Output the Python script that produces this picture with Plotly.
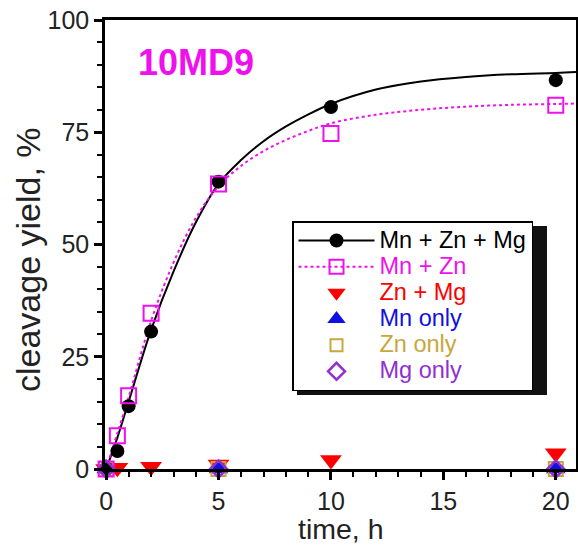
import plotly.graph_objects as go

# ---- data ----
t_mzm = [0, 0.5, 1, 2, 5, 10, 20]
y_mzm = [0, 4, 14, 30.6, 64, 80.6, 86.6]

t_mz = [0, 0.5, 1, 2, 5, 10, 20]
y_mz = [0, 7.4, 16.3, 34.7, 63.5, 74.7, 81]

t_zm = [0, 0.5, 2, 5, 10, 20]
y_zm = [0, 0.3, 0.5, 1, 2, 3.5]

t_single = [0, 5, 20]
y_mn = [0, 0, 0]
y_zn = [0, 0, 0]
y_mg = [0, 0, 0]

# fitted curves
fit_t = [0, 0.5, 1, 2, 3, 4, 5, 6, 7, 8, 9, 10, 12, 14, 16, 18, 20, 20.9]
fit_mzm = [0, 7, 15, 31, 44, 55, 63.5, 68.8, 73, 76.3, 79, 81.3, 84.5, 86.3, 87.3, 87.9, 88.2, 88.4]
fit_mz = [0, 8, 16, 33, 46, 56, 63, 67.5, 70.8, 73.3, 75.3, 77, 78.9, 80, 80.7, 81.1, 81.3, 81.4]

x_ticks = [0, 5, 10, 15, 20]
y_ticks = [0, 25, 50, 75, 100]

BLACK = "#000000"
MAG = "#ee11ee"
RED = "#ff0000"
BLUE = "#1010e0"
OLIVE = "#c8a83c"
PURPLE = "#9030d0"
FONT = "Liberation Sans, Arial, sans-serif"

fig = go.Figure()

# fit curves
fig.add_trace(go.Scatter(x=fit_t, y=fit_mzm, mode="lines", line=dict(color=BLACK, width=2, shape="spline"),
                         showlegend=False, hoverinfo="skip"))
fig.add_trace(go.Scatter(x=fit_t, y=fit_mz, mode="lines", line=dict(color=MAG, width=2, dash="dot", shape="spline"),
                         showlegend=False, hoverinfo="skip"))

# data points
fig.add_trace(go.Scatter(x=t_zm, y=y_zm, mode="markers", cliponaxis=False,
                         marker=dict(symbol="triangle-down", size=19, color=RED, line=dict(width=0)),
                         showlegend=False))
fig.add_trace(go.Scatter(x=t_single, y=y_mn, mode="markers", cliponaxis=False,
                         marker=dict(symbol="triangle-up", size=17, color=BLUE, line=dict(width=0)),
                         showlegend=False))
fig.add_trace(go.Scatter(x=t_single, y=y_zn, mode="markers", cliponaxis=False,
                         marker=dict(symbol="square-open", size=14, color=OLIVE, line=dict(width=2)),
                         showlegend=False))
fig.add_trace(go.Scatter(x=t_mzm, y=y_mzm, mode="markers", cliponaxis=False,
                         marker=dict(symbol="circle", size=14, color=BLACK),
                         showlegend=False))
fig.add_trace(go.Scatter(x=t_mz, y=y_mz, mode="markers", cliponaxis=False,
                         marker=dict(symbol="square-open", size=15, color=MAG, line=dict(width=2)),
                         showlegend=False))
fig.add_trace(go.Scatter(x=t_single, y=y_mg, mode="markers", cliponaxis=False,
                         marker=dict(symbol="diamond-open", size=13, color=PURPLE, line=dict(width=2.5)),
                         showlegend=False))

# legend entries
LEG_TEXT_PX = 23.5
def leg(name, color, mode, symbol, size, line=None, mline=0):
    label = '<span style="color:%s;font-size:%spx">%s</span>' % (color, LEG_TEXT_PX, name)
    kw = dict(x=[None], y=[None], mode=mode, name=label,
              marker=dict(symbol=symbol, size=size, color=color, line=dict(width=mline, color=color)))
    if line:
        kw["line"] = line
    fig.add_trace(go.Scatter(**kw))

leg("Mn + Zn + Mg", BLACK, "lines+markers", "circle", 14, line=dict(color=BLACK, width=2))
leg("Mn + Zn", MAG, "lines+markers", "square-open", 14, line=dict(color=MAG, width=2, dash="dot"), mline=2)
leg("Zn + Mg", RED, "markers", "triangle-down", 17)
leg("Mn only", BLUE, "markers", "triangle-up", 17)
leg("Zn only", OLIVE, "markers", "square-open", 12, mline=2)
leg("Mg only", PURPLE, "markers", "diamond-open", 13, mline=2.5)

W, H = 578, 545
L, R, T, B = 105, 2, 20, 76
pw, ph = W - L - R, H - T - B

def px(xw):
    return (xw - L) / pw

def py(yw):
    return (H - B - yw) / ph

# legend shadow
fig.add_shape(type="rect", xref="paper", yref="paper",
              x0=px(297), x1=px(547), y0=py(395), y1=py(226),
              fillcolor="#111111", line=dict(width=0), layer="above")

fig.add_annotation(text="<b>10MD9</b>", xref="paper", yref="paper", x=px(136), y=py(62),
                   xanchor="left", yanchor="middle", showarrow=False,
                   font=dict(family=FONT, size=36, color=MAG))

# axis titles
fig.add_annotation(text="time, h", xref="paper", yref="paper", x=px(341), y=py(528.5),
                   xanchor="center", yanchor="middle", showarrow=False, borderpad=0,
                   font=dict(family=FONT, size=28.5, color="#222"))
fig.add_annotation(text="cleavage yield, %", xref="paper", yref="paper", x=px(28), y=py(260),
                   xanchor="center", yanchor="middle", showarrow=False, textangle=-90,
                   font=dict(family=FONT, size=34, color="#222"))

axis_common = dict(showline=True, linecolor="black", linewidth=2.5, mirror=True,
                   ticks="outside", ticklen=8, tickwidth=2.5, tickcolor="black",
                   showgrid=False, zeroline=False, ticklabeloverflow="allow",
                   tickfont=dict(family=FONT, size=25, color="#222"))

fig.update_xaxes(range=[-0.05, 20.9], tickvals=x_ticks,
                 minor=dict(dtick=1, ticks="outside", ticklen=5, tickwidth=2, tickcolor="black"),
                 **axis_common)
fig.update_yaxes(range=[0, 100], tickvals=y_ticks,
                 minor=dict(dtick=5, ticks="outside", ticklen=5, tickwidth=2, tickcolor="black"),
                 **axis_common)

fig.update_layout(width=W, height=H, margin=dict(l=L, r=R, t=T, b=B, autoexpand=False),
                  plot_bgcolor="white", paper_bgcolor="white",
                  font=dict(family=FONT, size=22, color="black"),
                  legend=dict(x=px(292), y=py(221), xanchor="left", yanchor="top",
                              bgcolor="white", bordercolor="black", borderwidth=1.5,
                              font=dict(family=FONT, size=17.8), itemwidth=76,
                              tracegroupgap=0))

fig.write_html("out.html", config={"displayModeBar": False},
               post_script="document.body.style.margin='0';document.body.style.padding='0';")
